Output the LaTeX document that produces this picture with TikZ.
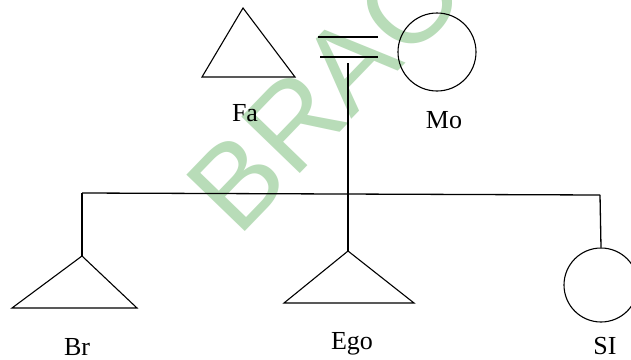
\documentclass[tikz,border=0pt]{standalone}
\usepackage{fontspec}
\setmainfont{Liberation Serif}
\newfontfamily\wmfont{Liberation Sans}
\definecolor{wmgreen}{RGB}{184,220,184}
\begin{document}
\begin{tikzpicture}[x=1pt,y=-1pt,
  line/.style={black,line width=1.3pt},
  shapeline/.style={black,line width=1.1pt},
  lab/.style={anchor=base,inner sep=0pt,font=\fontsize{26}{26}\selectfont},
  female/.style={circle,draw=black,line width=1.1pt,inner sep=0pt},
  wm/.style={text=wmgreen,inner sep=0pt,rotate=46,font=\wmfont\fontsize{118}{118}\selectfont}]
\useasboundingbox[fill=white] (0,0) rectangle (631,359);
% watermark
\node[wm] (wmB) at (237,182) {B};
\node[wm] (wmR) at (294,122) {R};
\node[wm] (wmA) at (350,63) {A};
\node[wm] (wmO) at (410,1) {O};
% Father
\coordinate (faA) at (243,8);
\coordinate (faL) at (202,77);
\coordinate (faR) at (295,77);
\draw[shapeline] (faA) -- (faL) -- (faR) -- cycle;
\node[lab] (fa) at (245,121) {Fa};
% Mother
\node[female,minimum size=78pt] (mo) at (437,52) {};
\node[lab] (molab) at (444,128) {Mo};
% marriage bars
\coordinate (m1l) at (318,37); \coordinate (m1r) at (378,37);
\coordinate (m2l) at (320,57); \coordinate (m2r) at (378,57);
\draw[line] (m1l) -- (m1r);
\draw[line] (m2l) -- (m2r);
\coordinate (desc) at (348,63);
% sibling bar
\coordinate (sbl) at (82,193);
\coordinate (sbr) at (600,195);
\draw[line] (sbl) -- (sbr);
% Brother
\coordinate (brA) at (82,256);
\coordinate (brL) at (12,308);
\coordinate (brR) at (137,308);
\draw[line] (sbl) -- (brA);
\draw[shapeline] (brA) -- (brL) -- (brR) -- cycle;
\node[lab] (br) at (77,355) {Br};
% Ego
\coordinate (egA) at (348,251);
\coordinate (egL) at (284,303);
\coordinate (egR) at (414,303);
\draw[line] (desc) -- (egA);
\draw[shapeline] (egA) -- (egL) -- (egR) -- cycle;
\node[lab] (ego) at (352,349) {Ego};
% Sister
\node[female,minimum size=74pt] (si) at (601,285) {};
\draw[line] (sbr) -- (si.north);
\node[lab] (silab) at (605,354) {SI};
\end{tikzpicture}
\end{document}
